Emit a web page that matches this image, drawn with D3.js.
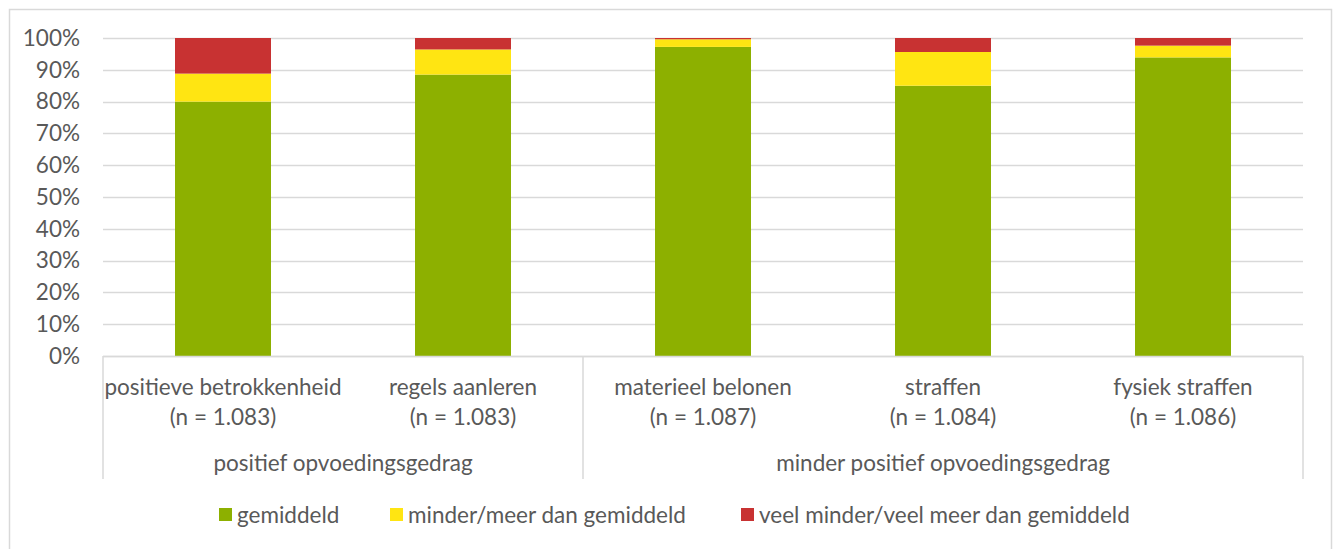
<!DOCTYPE html>
<html>
<head>
<meta charset="utf-8">
<script src="https://cdn.jsdelivr.net/npm/d3@7"></script>
<style>
  body { margin: 0; background: #fff; }
  svg text { font-family: Lato, "Noto Sans", sans-serif; fill: #595959; }
</style>
</head>
<body>
<svg id="chart" width="1338" height="549"></svg>
<script>
// data
var categories = ["positieve betrokkenheid", "regels aanleren", "materieel belonen", "straffen", "fysiek straffen"];
var sampleSizes = ["(n = 1.083)", "(n = 1.083)", "(n = 1.087)", "(n = 1.084)", "(n = 1.086)"];
var groups = ["positief opvoedingsgedrag", "minder positief opvoedingsgedrag"];
var groupSizes = [2, 3];
var seriesNames = ["gemiddeld", "minder/meer dan gemiddeld", "veel minder/veel meer dan gemiddeld"];
var gemiddeld = [80.0, 88.5, 97.2, 85.0, 93.9];
var minderMeer = [8.8, 7.9, 2.4, 10.6, 3.7];
var veelMinderMeer = [11.2, 3.6, 0.4, 4.4, 2.4];
var yTicks = [0, 10, 20, 30, 40, 50, 60, 70, 80, 90, 100];
var colors = ["#8db000", "#ffe512", "#c83232"];

var svg = d3.select("#chart");
var fontSize = "22.5px";

// outer frame
svg.append("rect")
    .attr("x", 9.5).attr("y", 9.5)
    .attr("width", 1322).attr("height", 560)
    .attr("fill", "none").attr("stroke", "#d9d9d9").attr("stroke-width", 1.5);

var plotLeft = 103, plotRight = 1303, plotTop = 38, plotBottom = 356;

var x = d3.scaleBand().domain(categories).range([plotLeft, plotRight]).paddingInner(0.6).paddingOuter(0.3);
var y = d3.scaleLinear().domain([0, 100]).range([plotBottom, plotTop]);

// gridlines
svg.append("g").selectAll("line")
    .data(yTicks)
    .enter().append("line")
    .attr("x1", plotLeft).attr("x2", plotRight)
    .attr("y1", function(d) { return Math.round(y(d)) + 0.5; })
    .attr("y2", function(d) { return Math.round(y(d)) + 0.5; })
    .attr("stroke", "#d9d9d9").attr("stroke-width", 1.5);

// y axis labels
svg.append("g").selectAll("text")
    .data(yTicks)
    .enter().append("text")
    .attr("x", 80)
    .attr("y", function(d) { return y(d); })
    .attr("dy", "0.35em")
    .attr("text-anchor", "end")
    .style("font-size", fontSize)
    .text(function(d) { return d + "%"; });

// stacked bars
var rows = categories.map(function(c, i) {
  return { cat: c, s0: gemiddeld[i], s1: minderMeer[i], s2: veelMinderMeer[i] };
});
var stack = d3.stack().keys(["s0", "s1", "s2"]);
var layers = stack(rows);

svg.append("g").selectAll("g")
    .data(layers)
    .enter().append("g")
    .attr("fill", function(d, i) { return colors[i]; })
    .selectAll("rect")
    .data(function(d) { return d; })
    .enter().append("rect")
    .attr("x", function(d) { return x(d.data.cat); })
    .attr("width", x.bandwidth())
    .attr("y", function(d) { return y(d[1]); })
    .attr("height", function(d) { return y(d[0]) - y(d[1]); });

// category axis line + separators
svg.append("line")
    .attr("x1", plotLeft).attr("x2", plotRight)
    .attr("y1", plotBottom + 0.5).attr("y2", plotBottom + 0.5)
    .attr("stroke", "#d9d9d9").attr("stroke-width", 1.5);

var step = (plotRight - plotLeft) / categories.length;
var sepIdx = [0];
groupSizes.reduce(function(acc, n) { acc += n; sepIdx.push(acc); return acc; }, 0);
svg.append("g").selectAll("line")
    .data(sepIdx)
    .enter().append("line")
    .attr("x1", function(d) { return plotLeft + d * step; })
    .attr("x2", function(d) { return plotLeft + d * step; })
    .attr("y1", plotBottom).attr("y2", 479)
    .attr("stroke", "#d9d9d9").attr("stroke-width", 1.5);

// category labels
var catLabels = svg.append("g").selectAll("text")
    .data(categories)
    .enter().append("text")
    .attr("text-anchor", "middle")
    .style("font-size", fontSize);
catLabels.append("tspan")
    .attr("x", function(d) { return x(d) + x.bandwidth() / 2; })
    .attr("y", 395)
    .text(function(d) { return d; });
catLabels.append("tspan")
    .attr("x", function(d) { return x(d) + x.bandwidth() / 2; })
    .attr("y", 425)
    .text(function(d, i) { return sampleSizes[i]; });

// group labels
svg.append("g").selectAll("text")
    .data(groups)
    .enter().append("text")
    .attr("x", function(d, i) { return plotLeft + (sepIdx[i] + sepIdx[i + 1]) / 2 * step; })
    .attr("y", 471)
    .attr("text-anchor", "middle")
    .style("font-size", fontSize)
    .text(function(d) { return d; });

// legend
var legendX = [219, 390, 741];
var legend = svg.append("g").selectAll("g")
    .data(seriesNames)
    .enter().append("g")
    .attr("transform", function(d, i) { return "translate(" + legendX[i] + ",508)"; });
legend.append("rect")
    .attr("width", 13).attr("height", 13)
    .attr("fill", function(d, i) { return colors[i]; });
legend.append("text")
    .attr("x", 18).attr("y", 7)
    .attr("dy", "0.35em")
    .style("font-size", fontSize)
    .text(function(d) { return d; });
</script>
</body>
</html>
